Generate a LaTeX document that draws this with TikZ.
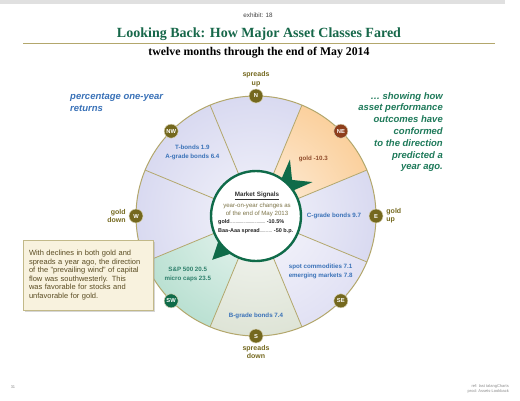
\documentclass[tikz,border=0pt]{standalone}
\usepackage{fontspec}
\setmainfont{Liberation Sans}
\newfontfamily\titlefont{Liberation Serif}
\usepackage{tikz}
\usetikzlibrary{calc}
\usetikzlibrary{positioning}
\usetikzlibrary{shadows}
\definecolor{olivedk}{HTML}{74681E}
\definecolor{khaki}{HTML}{B3A76C}
\definecolor{rustbr}{HTML}{8E3E1C}
\definecolor{pinegr}{HTML}{0F6B49}
\definecolor{titlegr}{HTML}{17684A}
\definecolor{labblue}{HTML}{3A72B8}
\definecolor{goldbr}{HTML}{8F4B2A}
\definecolor{stockgr}{HTML}{2F806C}
\definecolor{notegr}{HTML}{1E7A5A}
\definecolor{lav}{HTML}{D2D3EE}
\definecolor{lavlt}{HTML}{DCDCF2}
\definecolor{peach}{HTML}{FAC88C}
\definecolor{sage}{HTML}{D8DFCF}
\definecolor{mint}{HTML}{AEDBCA}
\definecolor{cream}{HTML}{F8F2DE}
\definecolor{boxtxt}{HTML}{5A4C22}
\definecolor{signtxt}{HTML}{7D7448}
\newcommand{\fsz}[2]{\fontsize{#1pt}{#2pt}\selectfont}
\newcommand{\sector}[2]{\begin{scope}
    \clip (O) -- ($(O)+(#1-22.5:120)$) arc[start angle=#1-22.5, delta angle=45, radius=120] -- cycle;
    \shade[inner color=#2!25, outer color=#2] (O) circle[radius=150];
  \end{scope}}
\newcommand{\seclabel}[4]{\node[seclab, text=#3] (#1) at ($(O)+(#2)$) {#4};}
\newcommand{\leaderline}[3]{\hbox to #1{\textbf{#2}\color{black!55}\leaders\hbox to 1.1pt{\hss.\hss}\hfill\color{black!85}\,\textbf{#3}}}
\tikzset{
  badge/.style={circle, fill=olivedk, draw=khaki!50, line width=0.5pt, minimum size=14pt,
    inner sep=0pt, text=white, font=\bfseries\fsz{5.8}{6}},
  compass/.style={text=olivedk, font=\bfseries\fsz{7}{8.2}, inner sep=1pt, align=center},
  seclab/.style={font=\bfseries\fsz{6.2}{8.7}, align=center, inner sep=0pt},
  spoke/.style={draw=khaki, line width=0.8pt},
  rim/.style={draw=khaki, line width=1pt},
  hub/.style={circle, fill=white, draw=pinegr, line width=2.4pt, minimum size=90pt, inner sep=0pt},
  notebox/.style={fill=cream, draw=khaki!80, line width=0.6pt, text=boxtxt, align=left,
    text width=118pt, minimum height=70pt, inner xsep=6pt, font=\fsz{7.5}{8.6},
    drop shadow={shadow xshift=1.6pt, shadow yshift=-1.6pt, fill=black!35, opacity=0.45}},
  sidenote/.style={font=\bfseries\itshape\fsz{9.5}{11.8}, inner sep=0pt}
}

\begin{document}
\begin{tikzpicture}[x=1pt,y=1pt]
  \useasboundingbox (0,0) rectangle (520,-400);
  \fill[white] (0,0) rectangle (520,-400);
  \fill[black!12] (0,0) rectangle (505,-4);
  % heading
  \node[text=black!75, font=\fsz{6.3}{7}] (exh) at (258,-15) {exhibit: 18};
  \node[text=titlegr, font=\titlefont\bfseries\fsz{14}{16}] (title) at (259,-34) {Looking Back: How Major Asset Classes Fared};
  \draw[khaki, line width=1pt] (23,-43) -- (495,-43);
  \node[font=\titlefont\bfseries\fsz{11.8}{13}] (subtitle) at (259,-53) {twelve months through the end of May 2014};
  % side notes
  \node[sidenote, text=labblue, anchor=north west, align=left] (pct) at (70,-93) {percentage one-year\\returns};
  \node[sidenote, text=notegr, anchor=north east, align=right] (showing) at (443,-92) {\dots\ showing how\\asset performance\\outcomes have\\conformed\\to the direction\\predicted a\\year ago.};
  % wheel
  \coordinate (O) at (256,-216);
  \sector{90}{lav}
  \sector{45}{peach}
  \sector{0}{lav}
  \sector{-45}{lavlt}
  \sector{-90}{sage}
  \sector{-135}{mint}
  \sector{180}{lav}
  \sector{135}{lav}
  \foreach \ang in {22.5,67.5,...,337.5}
    \draw[spoke] (O) -- ($(O)+(\ang:120)$);
  \draw[rim] (O) circle[radius=120];
  % sector labels
  \seclabel{tb}{135:90}{labblue}{T-bonds 1.9\\A-grade bonds 6.4}
  \seclabel{gd}{45:81}{goldbr}{gold -10.3}
  \seclabel{cg}{0:78}{labblue}{C-grade bonds 9.7}
  \seclabel{sc}{-40.5:85}{labblue}{spot commodities 7.1\\emerging markets 7.8}
  \seclabel{bg}{-90:100}{labblue}{B-grade bonds 7.4}
  \seclabel{sp}{-139.3:90}{stockgr}{S\&P 500 20.5\\micro caps 23.5}
  % wind arrow
  \begin{scope}[shift={(O)},rotate=45]
    \fill[pinegr] (36,-5) -- (64,-16) -- (51,0) -- (64,16) -- (36,5) -- cycle;
  \end{scope}
  \begin{scope}[shift={(O)},rotate=225]
    \fill[pinegr] (36,-13) -- (62,0) -- (36,13) -- cycle;
  \end{scope}
  \node[hub] (hub) at (O) {};
  % market signals
  \node[text=black!80, font=\bfseries\fsz{6.3}{7}, inner sep=0pt] (mksig) at ($(O)+(1,20)$) {\underline{Market Signals}};
  \node[text=signtxt, font=\fsz{6.1}{8.6}, align=center, inner sep=0pt, below=2.5pt of mksig] (yoy) {year-on-year changes as\\of the end of May 2013};
  \node[anchor=west, inner sep=0pt, font=\fsz{5.5}{6}, text=black!85] (gline) at (218,-222) {\leaderline{66pt}{gold}{-10.5\%}};
  \node[anchor=west, inner sep=0pt, font=\fsz{5.5}{6}, text=black!85] (bline) at (218,-231) {\leaderline{75pt}{Baa-Aaa spread}{-50 b.p.}};
  % badges
  \foreach \ang/\lbl/\col in {90/N/olivedk,45/NE/rustbr,0/E/olivedk,-45/SE/olivedk,-90/S/olivedk,-135/SW/pinegr,180/W/olivedk,135/NW/olivedk}
    \node[badge, fill=\col] (b\lbl) at ($(O)+(\ang:120)$) {\lbl};
  \node[compass, above=1pt of bN] (spup) {spreads\\up};
  \node[compass, below=1pt of bS] (spdown) {spreads\\down};
  \node[compass, left=2pt of bW, align=right] (gdown) {gold\\down};
  \node[compass, right=2pt of bE, align=left] (gup) {gold\\up};
  % note box
  \node[notebox] (note) at (88,-275) {With declines in both gold and\\spreads a year ago, the direction\\of the "prevailing wind" of capital\\flow was southwesterly. This\\was favorable for stocks and\\unfavorable for gold.};
  % footer
  \node[text=black!45, font=\fsz{4}{4.5}, inner sep=0pt] (page) at (13,-387) {31};
  \node[text=black!45, font=\fsz{4}{4.8}, align=right, anchor=east, inner sep=0pt] (ref) at (509,-389) {ref: last talangCharts\\prod: Assets-Lookback};
\end{tikzpicture}
\end{document}
